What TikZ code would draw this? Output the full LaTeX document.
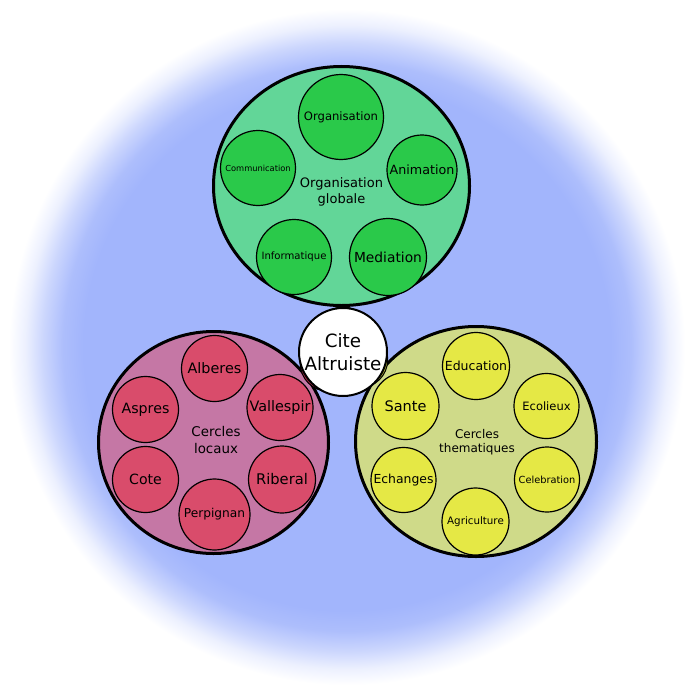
\documentclass[tikz,border=0pt]{standalone}
\usepackage{fontspec}
\setmainfont{DejaVu Sans}
\usepackage{tikz}
\usetikzlibrary{shapes.geometric}

\definecolor{bgblue}{HTML}{A2B5FC}
\definecolor{orgbig}{HTML}{62D698}
\definecolor{orgsmall}{HTML}{2AC94A}
\definecolor{orghid}{HTML}{8EEA8E}
\definecolor{locbig}{HTML}{C577A5}
\definecolor{locsmall}{HTML}{D94C6B}
\definecolor{lochid}{HTML}{A02040}
\definecolor{thbig}{HTML}{CFDA89}
\definecolor{thsmall}{HTML}{E5E845}
\definecolor{thhid}{HTML}{A8A830}

\pgfdeclareradialshading{blueblur}{\pgfpoint{0bp}{0bp}}{color(0bp)=(bgblue); color(19.5bp)=(bgblue); color(21bp)=(bgblue!88!white); color(22.5bp)=(bgblue!55!white); color(23.8bp)=(bgblue!20!white); color(25bp)=(white); color(50bp)=(white)}

\newcommand{\fsz}[2]{\fontsize{#1}{#2}\selectfont}

\begin{document}
\begin{tikzpicture}[
    x=1pt, y=-1pt,
    bigc/.style={draw, ellipse, line width=3pt, inner sep=0pt},
    subc/.style={draw, circle, line width=1.2pt, inner sep=0pt, align=center},
    hidc/.style={draw, circle, line width=1pt, inner sep=0pt},
    biglab/.style={align=center, inner sep=0pt},
    orgc/.style={subc, fill=orgsmall},
    locc/.style={subc, fill=locsmall},
    thc/.style={subc, fill=thsmall},
]

\useasboundingbox (0,0) rectangle (693,693);
\fill[white] (0,0) rectangle (693,693);
\shade[shading=blueblur] (347,347) circle (338pt);

\node[bigc, fill=orgbig, minimum width=256pt, minimum height=239pt] (orgglob) at (341.5,186) {};
\node[biglab, font=\fsz{13}{16.5}] (orglab) at (341.5,192) {Organisation\\globale};
\node[orgc, minimum size=85pt, font=\fsz{11.6}{14}] (orga) at (341,117) {Organisation};
\node[orgc, minimum size=75pt, font=\fsz{8.3}{10}] (comm) at (258,168) {Communication};
\node[orgc, minimum size=70pt, font=\fsz{12.7}{15}] (anim) at (422,170) {Animation};
\node[orgc, minimum size=75pt, font=\fsz{10.1}{12}] (info) at (294,257) {Informatique};
\node[orgc, minimum size=77pt, font=\fsz{13.8}{16}] (medi) at (388,257) {Mediation};

\node[bigc, fill=locbig, minimum width=230pt, minimum height=222pt] (loccer) at (213.5,442.5) {};
\node[biglab, font=\fsz{13.4}{17.3}] (loclab) at (216,440) {Cercles\\locaux};
\node[locc, minimum size=66pt, font=\fsz{14.4}{17}] (albe) at (214.5,368.5) {Alberes};
\node[locc, minimum size=66pt, font=\fsz{14.2}{17}] (aspr) at (145.5,409.5) {Aspres};
\node[locc, minimum size=66pt, font=\fsz{14.4}{17}] (vall) at (280,407.5) {Vallespir};
\node[locc, minimum size=66pt, font=\fsz{14.1}{17}] (cote) at (145.5,479.5) {Cote};
\node[locc, minimum size=67pt, font=\fsz{14.7}{17}] (ribe) at (282,479.5) {Riberal};
\node[locc, minimum size=71pt, font=\fsz{12.2}{15}] (perp) at (214.5,514.5) {Perpignan};

\node[bigc, fill=thbig, minimum width=241pt, minimum height=230pt] (thcer) at (476,441.5) {};
\node[biglab, font=\fsz{12}{14.5}] (thlab) at (477,442) {Cercles\\thematiques};
\node[thc, minimum size=67pt, font=\fsz{12.5}{15}] (educ) at (476,366) {Education};
\node[thc, minimum size=67pt, font=\fsz{14.5}{17}] (sant) at (405.5,406) {Sante};
\node[thc, minimum size=65pt, font=\fsz{11.5}{14}] (ecol) at (546.5,406) {Ecolieux};
\node[thc, minimum size=65pt, font=\fsz{12.4}{15}] (echa) at (403.5,480) {Echanges};
\node[thc, minimum size=65pt, font=\fsz{9.8}{12}] (cele) at (547,479.5) {Celebration};
\node[thc, minimum size=67pt, font=\fsz{10.3}{12}] (agri) at (475.5,521.5) {Agriculture};

\node[hidc, fill=orghid, minimum size=56pt] (orghide) at (343,335) {};
\node[hidc, fill=lochid, minimum size=56pt] (lochide) at (328.2,363.3) {};
\node[hidc, fill=thhid, minimum size=56pt] (thhide) at (359.7,359.8) {};

\node[draw, circle, fill=white, line width=2pt, minimum size=88pt, inner sep=0pt,
      align=center, font=\fsz{18.3}{22.7}] (cite) at (343,352) {Cite\\Altruiste};

\end{tikzpicture}
\end{document}
